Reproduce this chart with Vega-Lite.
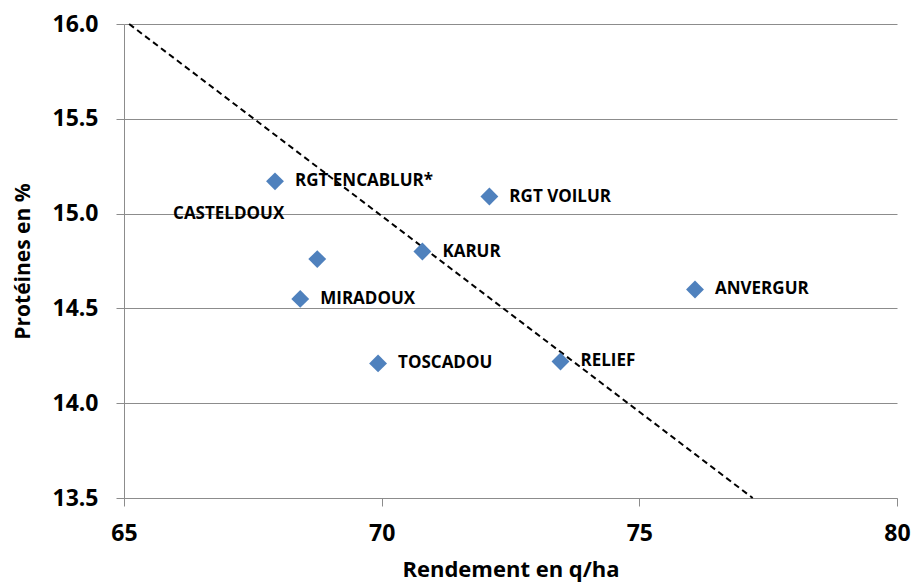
{
  "$schema": "https://vega.github.io/schema/vega-lite/v6.json",
  "width": 773,
  "height": 474,
  "autosize": {"type": "none"},
  "padding": {"left": 124, "top": 24, "right": 15, "bottom": 86},
  "background": "white",
  "config": {
    "view": {"stroke": null},
    "font": "Open Sans",
    "axis": {
      "labelFont": "Open Sans",
      "titleFont": "Open Sans",
      "labelFontWeight": "bold",
      "titleFontWeight": "bold",
      "labelColor": "#000",
      "titleColor": "#000",
      "domainColor": "#8c8c8c",
      "tickColor": "#8c8c8c",
      "gridColor": "#8c8c8c",
      "tickSize": 8,
      "labelFlush": false
    }
  },
  "datasets": {
    "pts": [
      {"variete": "RGT ENCABLUR*", "rendement": 67.93, "proteines": 15.17},
      {"variete": "RGT VOILUR", "rendement": 72.09, "proteines": 15.09},
      {"variete": "CASTELDOUX", "rendement": 68.75, "proteines": 14.76},
      {"variete": "KARUR", "rendement": 70.79, "proteines": 14.8},
      {"variete": "MIRADOUX", "rendement": 68.42, "proteines": 14.55},
      {"variete": "ANVERGUR", "rendement": 76.08, "proteines": 14.6},
      {"variete": "TOSCADOU", "rendement": 69.93, "proteines": 14.21},
      {"variete": "RELIEF", "rendement": 73.47, "proteines": 14.22}
    ],
    "tendance": [
      {"rendement": 65.1, "proteines": 16.0},
      {"rendement": 77.2, "proteines": 13.5}
    ]
  },
  "encoding": {
    "x": {
      "field": "rendement",
      "type": "quantitative",
      "scale": {"domain": [65, 80], "nice": false, "zero": false},
      "axis": {
        "title": "Rendement en q/ha",
        "values": [65, 70, 75, 80],
        "grid": false,
        "labelFontSize": 23,
        "titleFontSize": 22,
        "labelPadding": 16,
        "titleY": 71,
        "titleBaseline": "middle"
      }
    },
    "y": {
      "field": "proteines",
      "type": "quantitative",
      "scale": {"domain": [13.5, 16], "nice": false, "zero": false},
      "axis": {
        "title": "Protéines en %",
        "values": [13.5, 14, 14.5, 15, 15.5, 16],
        "format": ".1f",
        "grid": true,
        "labelFontSize": 23,
        "titleFontSize": 21,
        "labelPadding": 18,
        "titleX": -101,
        "titleBaseline": "middle"
      }
    }
  },
  "layer": [
    {"mark": {"type": "rule", "color": "#000", "strokeWidth": 1}, "encoding": {"y": {"datum": 16}}},
    {"mark": {"type": "rule", "color": "#000", "strokeWidth": 1}, "encoding": {"x": {"datum": 80}}},
    {
      "data": {"name": "tendance"},
      "mark": {"type": "line", "color": "#000", "strokeWidth": 2, "strokeDash": [6, 4]}
    },
    {
      "data": {"name": "pts"},
      "mark": {"type": "point", "shape": "diamond", "filled": true, "size": 320, "color": "#4F81BD", "opacity": 1}
    },
    {
      "data": {"name": "pts"},
      "transform": [{"filter": "datum.variete != 'CASTELDOUX'"}],
      "mark": {"type": "text", "align": "left", "baseline": "middle", "dx": 20, "fontSize": 17, "fontWeight": "bold", "font": "Open Sans", "color": "#000"},
      "encoding": {"text": {"field": "variete"}}
    },
    {
      "data": {"name": "pts"},
      "transform": [{"filter": "datum.variete == 'CASTELDOUX'"}],
      "mark": {"type": "text", "align": "right", "baseline": "middle", "dx": -33, "dy": -45, "fontSize": 17, "fontWeight": "bold", "font": "Open Sans", "color": "#000"},
      "encoding": {"text": {"field": "variete"}}
    }
  ]
}
